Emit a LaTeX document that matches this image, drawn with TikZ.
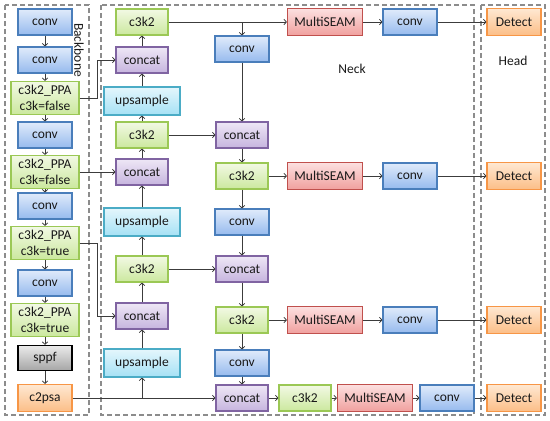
\documentclass[tikz,border=0pt]{standalone}
\usepackage{fontspec}
\setmainfont{Carlito}
\usetikzlibrary{arrows.meta}

\definecolor{convline}{RGB}{74,126,187}
\definecolor{convtop}{RGB}{224,235,251}
\definecolor{convbot}{RGB}{150,186,238}
\definecolor{grnline}{RGB}{155,200,85}
\definecolor{grntop}{RGB}{242,249,228}
\definecolor{grnbot}{RGB}{203,232,158}
\definecolor{catline}{RGB}{128,100,162}
\definecolor{cattop}{RGB}{238,231,246}
\definecolor{catbot}{RGB}{198,180,222}
\definecolor{upline}{RGB}{75,172,198}
\definecolor{uptop}{RGB}{228,246,252}
\definecolor{upbot}{RGB}{165,225,245}
\definecolor{seamline}{RGB}{192,80,77}
\definecolor{seamtop}{RGB}{252,224,224}
\definecolor{seambot}{RGB}{240,160,158}
\definecolor{detline}{RGB}{247,150,70}
\definecolor{dettop}{RGB}{254,232,210}
\definecolor{detbot}{RGB}{252,190,135}
\definecolor{wire}{RGB}{60,60,60}

\tikzset{
  blk/.style={draw, line width=1.1pt, minimum height=26pt, inner sep=1pt,
    align=center, text=black!90, font=\fontsize{13.5}{16}\selectfont},
  convbox/.style={blk, draw=convline, top color=convtop, bottom color=convbot, minimum width=54pt},
  grnbox/.style={blk, draw=grnline, top color=grntop, bottom color=grnbot, minimum width=52pt},
  ppabox/.style={grnbox, minimum width=68pt, minimum height=33pt},
  catbox/.style={blk, draw=catline, top color=cattop, bottom color=catbot, minimum width=52pt},
  upbox/.style={blk, draw=upline, top color=uptop, bottom color=upbot, minimum width=76pt, minimum height=28pt},
  seambox/.style={blk, draw=seamline, top color=seamtop, bottom color=seambot, minimum width=75pt, minimum height=27pt},
  detbox/.style={blk, draw=detline, top color=dettop, bottom color=detbot, minimum width=54pt, minimum height=27pt},
  sppfbox/.style={blk, draw=black, line width=1.3pt, top color=black!8, bottom color=black!35, minimum width=54pt, minimum height=25pt},
  region/.style={draw=black!45, line width=1.2pt, dash pattern=on 5pt off 3pt},
  lbl/.style={font=\fontsize{13.5}{16}\selectfont, text=black!90},
}

\begin{document}
\begin{tikzpicture}[x=1pt, y=-1pt, >={Straight Barb[length=2.5pt,width=5.5pt]},
  every path/.append style={line width=0.8pt}]
\useasboundingbox (0,0) rectangle (550,421);
% the three regions
\draw[region] (5,5) rectangle (89,415);
\draw[region] (101,5) rectangle (474,415);
\draw[region] (481,5) rectangle (545,415);
\node[lbl, rotate=-90] (bbl) at (79,50) {Backbone};
\node[lbl] (nkl) at (352,69) {Neck};
\node[lbl] (hdl) at (513,61) {Head};

% backbone
\node[convbox] (c1) at (45,22) {conv};
\node[convbox] (c2) at (45,60) {conv};
\node[ppabox] (ppa1) at (45,98) {c3k2\_PPA\\c3k=false};
\node[convbox] (c3) at (45,135) {conv};
\node[ppabox] (ppa2) at (45,172) {c3k2\_PPA\\c3k=false};
\node[convbox] (c4) at (45,206) {conv};
\node[ppabox] (ppa3) at (45,243) {c3k2\_PPA\\c3k=true};
\node[convbox] (c5) at (45,283) {conv};
\node[ppabox] (ppa4) at (45,320) {c3k2\_PPA\\c3k=true};
\node[sppfbox] (sppf) at (45,358) {sppf};
\node[detbox] (c2psa) at (45,398) {c2psa};
\foreach \a/\b in {c1/c2, c2/ppa1, ppa1/c3, c3/ppa2, ppa2/c4, c4/ppa3, ppa3/c5, c5/ppa4, ppa4/sppf, sppf/c2psa}
  \draw[->, wire] (\a) -- (\b);

% neck, upward column
\node[grnbox] (la1) at (142,22) {c3k2};
\node[catbox] (lc1) at (142,60) {concat};
\node[upbox] (lu1) at (142,101) {upsample};
\node[grnbox] (la2) at (142,135) {c3k2};
\node[catbox] (lc2) at (142,172) {concat};
\node[upbox] (lu2) at (142,222) {upsample};
\node[grnbox] (la3) at (142,269) {c3k2};
\node[catbox] (lc3) at (142,316) {concat};
\node[upbox] (lu3) at (142,363) {upsample};
\foreach \a/\b in {lu3/lc3, lc3/la3, la3/lu2, lu2/lc2, lc2/la2, la2/lu1, lu1/lc1, lc1/la1}
  \draw[->, wire] (\a) -- (\b);

% neck, downward column
\node[convbox] (rv1) at (242,49) {conv};
\node[catbox] (rc1) at (242,135) {concat};
\node[grnbox] (ra1) at (242,176) {c3k2};
\node[convbox] (rv2) at (242,222) {conv};
\node[catbox] (rc2) at (242,269) {concat};
\node[grnbox] (ra2) at (242,320) {c3k2};
\node[convbox] (rv3) at (242,363) {conv};
\node[catbox] (rc3) at (242,398) {concat};
\foreach \a/\b in {rv1/rc1, rc1/ra1, ra1/rv2, rv2/rc2, rc2/ra2, ra2/rv3, rv3/rc3}
  \draw[->, wire] (\a) -- (\b);
\node[grnbox] (ra3) at (305,398) {c3k2};

% outputs to the head
\foreach \i/\y in {1/22, 2/176, 3/320} {
  \node[seambox] (ms\i) at (325,\y) {MultiSEAM};
  \node[convbox] (hv\i) at (410,\y) {conv};
}
\node[seambox] (ms4) at (375,398) {MultiSEAM};
\node[convbox] (hv4) at (447,398) {conv};
\foreach \i/\y in {1/22, 2/176, 3/320, 4/398}
  \node[detbox] (d\i) at (514,\y) {Detect};
\draw[->, wire] (la1) -- (ms1);
\draw[->, wire] (ra1) -- (ms2);
\draw[->, wire] (ra2) -- (ms3);
\draw[->, wire] (rc3) -- (ra3);
\draw[->, wire] (ra3) -- (ms4);
\foreach \i in {1,...,4} {
  \draw[->, wire] (ms\i) -- (hv\i);
  \draw[->, wire] (hv\i) -- (d\i);
}

% lateral links
\draw[->, wire] (ppa1.east) -- ++(18,0) |- (lc1.west);
\draw[->, wire] (ppa2) -- (lc2);
\draw[->, wire] (ppa3.east) -- ++(18,0) |- (lc3.west);
\draw[->, wire] (c2psa) -- (rc3);
\draw[->, wire] (lu3 |- c2psa) -- (lu3);
\draw[->, wire] (rv1 |- la1) -- (rv1);
\draw[->, wire] (la2) -- (rc1);
\draw[->, wire] (la3) -- (rc2);
\end{tikzpicture}
\end{document}
